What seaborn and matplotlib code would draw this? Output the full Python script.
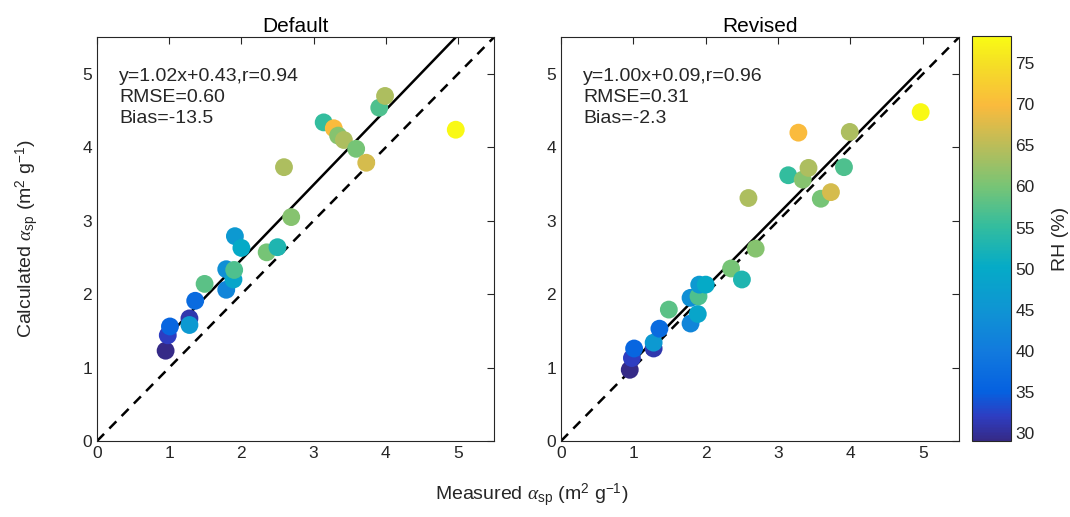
import numpy as np
import pandas as pd
import matplotlib
matplotlib.use("Agg")
import matplotlib.pyplot as plt
import seaborn as sns
from matplotlib.colors import LinearSegmentedColormap, Normalize
from matplotlib.cm import ScalarMappable

# measured alpha_sp (same for both panels)
measured = [0.95, 0.98, 1.01, 1.28, 1.28, 1.36, 1.49, 1.79, 1.79, 1.89, 1.90, 1.91, 2.00,
            2.35, 2.50, 2.69, 2.59, 3.14, 3.28, 3.34, 3.42, 3.59, 3.73, 3.91, 3.99, 4.97]
# calculated alpha_sp, default scheme
calc_default = [1.23, 1.44, 1.56, 1.67, 1.58, 1.91, 2.14, 2.06, 2.34, 2.20, 2.33, 2.79, 2.63,
                2.57, 2.64, 3.05, 3.73, 4.34, 4.26, 4.16, 4.10, 3.98, 3.79, 4.54, 4.70, 4.24]
# calculated alpha_sp, revised scheme
calc_revised = [0.97, 1.13, 1.26, 1.26, 1.34, 1.53, 1.79, 1.60, 1.95, 1.73, 1.97, 2.13, 2.13,
                2.35, 2.20, 2.62, 3.31, 3.62, 4.20, 3.56, 3.72, 3.30, 3.39, 3.73, 4.21, 4.48]
# relative humidity (%)
rh = [29, 32, 36, 31, 46, 37, 58, 42, 44, 49, 57, 46, 50,
      60, 53, 61, 64, 55, 70, 61, 64, 60, 67, 57, 64, 78]

panels = ["Default", "Revised"]
fits = [(1.02, 0.43), (1.00, 0.09)]
stats = ["y=1.02x+0.43,r=0.94\nRMSE=0.60\nBias=-13.5",
         "y=1.00x+0.09,r=0.96\nRMSE=0.31\nBias=-2.3"]
rh_range = (29, 78.3)
rh_ticks = [30, 35, 40, 45, 50, 55, 60, 65, 70, 75]

# parula-like colormap
parula = LinearSegmentedColormap.from_list("parula", [
    (0.00, (0.208, 0.166, 0.529)),
    (0.06, (0.180, 0.240, 0.760)),
    (0.12, (0.020, 0.380, 0.880)),
    (0.22, (0.070, 0.480, 0.870)),
    (0.32, (0.060, 0.580, 0.830)),
    (0.43, (0.020, 0.670, 0.780)),
    (0.53, (0.200, 0.740, 0.620)),
    (0.63, (0.470, 0.770, 0.460)),
    (0.73, (0.730, 0.740, 0.350)),
    (0.83, (0.980, 0.730, 0.240)),
    (0.93, (0.960, 0.870, 0.150)),
    (1.00, (0.976, 0.984, 0.080)),
])

sns.set_style("white")
plt.rcParams["font.family"] = ["Liberation Sans", "DejaVu Sans"]
plt.rcParams["mathtext.fontset"] = "custom"
plt.rcParams["mathtext.rm"] = "Liberation Sans"
plt.rcParams["mathtext.it"] = "Liberation Serif:italic"

df = pd.DataFrame({"measured": measured, "Default": calc_default,
                   "Revised": calc_revised, "rh": rh})

fig = plt.figure(figsize=(10.7, 5.17), dpi=100)
axes = [fig.add_axes([0.0907, 0.147, 0.371, 0.781]),
        fig.add_axes([0.5243, 0.147, 0.372, 0.781])]
cax = fig.add_axes([0.908, 0.147, 0.0364, 0.783])

edge = "#262626"
for ax, name, (a, b), txt in zip(axes, panels, fits, stats):
    ax.plot([0, 5.5], [0, 5.5], "k--", lw=1.8, dashes=(4, 3), zorder=1)
    xs = np.array([min(measured), max(measured)])
    ax.plot(xs, a * xs + b, "k-", lw=1.8, zorder=1)
    sns.scatterplot(data=df, x="measured", y=name, hue="rh", palette=parula,
                    hue_norm=rh_range, s=165, linewidth=0, legend=False,
                    ax=ax, zorder=2)
    ax.set_xlim(0, 5.5)
    ax.set_ylim(0, 5.5)
    ax.set_xticks(range(6))
    ax.set_yticks(range(6))
    ax.set_xlabel("")
    ax.set_ylabel("")
    ax.set_title(name, fontsize=15, color="black", pad=4)
    ax.tick_params(direction="in", top=True, right=True, length=5,
                   labelsize=12.5, colors=edge)
    for sp in ax.spines.values():
        sp.set_color(edge)
        sp.set_linewidth(0.8)
    ax.text(0.055, 0.925, txt, transform=ax.transAxes, va="top", ha="left",
            fontsize=14, linespacing=1.32)

axes[0].set_ylabel(r"Calculated $\alpha_{\mathrm{sp}}$ (m$^{2}$ g$^{-1}$)",
                   fontsize=14, color=edge, labelpad=30)

cb = fig.colorbar(ScalarMappable(norm=Normalize(*rh_range), cmap=parula), cax=cax)
cb.set_ticks(rh_ticks)
cb.ax.tick_params(direction="in", length=4, labelsize=12.5, colors=edge)
cb.outline.set_edgecolor(edge)
cb.outline.set_linewidth(0.8)
cb.set_label("RH (%)", fontsize=14, color=edge, labelpad=12)

fig.text(0.497, 0.015, r"Measured $\alpha_{\mathrm{sp}}$ (m$^{2}$ g$^{-1}$)",
         ha="center", va="bottom", fontsize=14, color=edge)

plt.savefig("out.png", dpi=100)
